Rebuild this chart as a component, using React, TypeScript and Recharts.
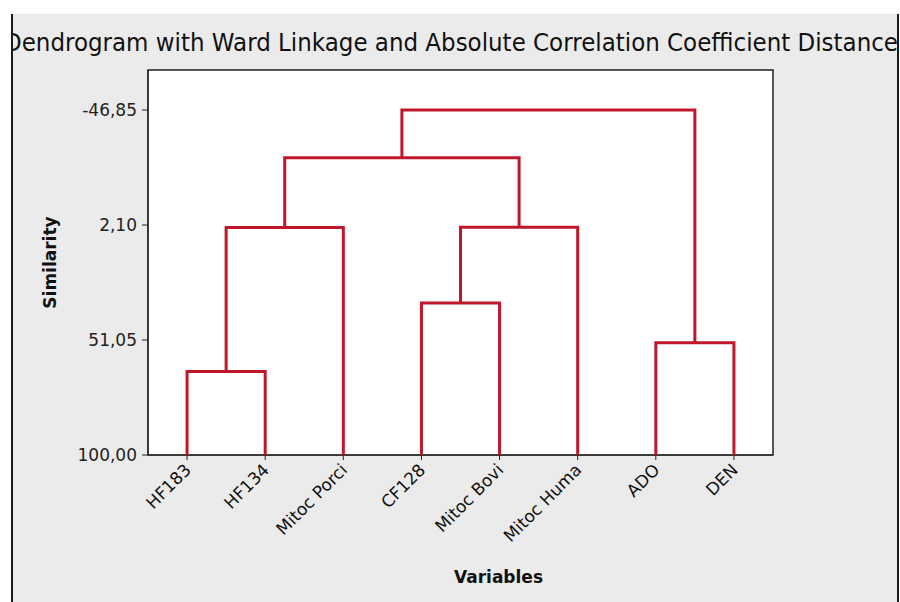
import { ComposedChart, Scatter, XAxis, YAxis, ReferenceArea } from 'recharts';

// leaf order along the x axis
const leaves = ['HF183', 'HF134', 'Mitoc Porci', 'CF128', 'Mitoc Bovi', 'Mitoc Huma', 'ADO', 'DEN'];

// merge steps: indices 0-7 are leaves, each step k creates node 8 + k
const mergeLeft = [0, 3, 6, 8, 9, 11, 13];
const mergeRight = [1, 4, 7, 2, 5, 12, 10];
const mergeSimilarity = [64.5, 35.3, 52.2, 3.2, 3.0, -26.5, -46.85];

const similarityTicks = [-46.85, 2.1, 51.05, 100];

const X_DOMAIN = [-0.5, 7.5];
const Y_DOMAIN = [-63.9, 100];

const RED = '#c0162a';
const FONT = '"DejaVu Sans", Tahoma, Verdana, sans-serif';

// leaves sit at similarity 100, each merge is drawn as a bracket
const nodeX: number[] = leaves.map((_, i) => i);
const nodeY: number[] = leaves.map(() => 100);
const links = mergeLeft.map((l, k) => {
  const r = mergeRight[k];
  const h = mergeSimilarity[k];
  nodeX.push((nodeX[l] + nodeX[r]) / 2);
  nodeY.push(h);
  return [
    { x: nodeX[l], y: nodeY[l] },
    { x: nodeX[l], y: h },
    { x: nodeX[r], y: h },
    { x: nodeX[r], y: nodeY[r] },
  ];
});

const fmt = (v: number) => v.toFixed(2).replace('.', ',');

const LeafTick = ({ x, y, payload }: any) => (
  <text
    x={x + 5}
    y={y + 9}
    transform={`rotate(-45 ${x + 5} ${y + 9})`}
    textAnchor="end"
    fontSize={17}
    fontFamily={FONT}
    fill="#111"
  >
    {leaves[payload.value]}
  </text>
);

const NoDot = () => <g />;

export default function App() {
  return (
    <div style={{ position: 'absolute', left: 0, top: 0, width: 900, height: 602, background: '#fff' }}>
      <div
        style={{
          position: 'absolute',
          left: 11,
          top: 14,
          width: 884,
          height: 588,
          background: '#ebebeb',
          borderLeft: '2px solid #1a1a1a',
          borderRight: '2px solid #1a1a1a',
          overflow: 'hidden',
        }}
      >
        <svg width={884} height={60} style={{ position: 'absolute', left: 0, top: 0 }}>
          <text x={-9} y={37} fontSize={24} fontFamily={FONT} fill="#111" textLength={894} lengthAdjust="spacingAndGlyphs">
            Dendrogram with Ward Linkage and Absolute Correlation Coefficient Distance
          </text>
        </svg>
      </div>
      <div style={{ position: 'absolute', left: 0, top: 0 }}>
        <ComposedChart width={900} height={602} margin={{ top: 70, right: 127, bottom: 0, left: 0 }}>
          <XAxis
            type="number"
            dataKey="x"
            domain={X_DOMAIN}
            ticks={[0, 1, 2, 3, 4, 5, 6, 7]}
            interval={0}
            height={147}
            tickSize={5}
            tickMargin={2}
            stroke="#222"
            tick={<LeafTick />}
            label={{ value: 'Variables', position: 'center', dx: 38, dy: 48, fontSize: 17, fontWeight: 600, fontFamily: FONT, fill: '#111' }}
          />
          <YAxis
            type="number"
            dataKey="y"
            domain={Y_DOMAIN}
            reversed
            ticks={similarityTicks}
            interval={0}
            width={148}
            tickSize={6}
            tickMargin={5}
            stroke="#222"
            tickFormatter={fmt}
            tick={{ fontSize: 17, fontFamily: FONT, fill: '#222' }}
            label={{ value: 'Similarity', angle: -90, position: 'center', dx: -24, fontSize: 17, fontWeight: 600, fontFamily: FONT, fill: '#111' }}
          />
          <ReferenceArea
            x1={X_DOMAIN[0]}
            x2={X_DOMAIN[1]}
            y1={Y_DOMAIN[0]}
            y2={Y_DOMAIN[1]}
            fill="#fff"
            fillOpacity={1}
            stroke="#222"
            strokeWidth={1.5}
          />
          {links.map((pts, i) => (
            <Scatter
              key={i}
              data={pts}
              line={{ stroke: RED, strokeWidth: 3 }}
              shape={NoDot}
              isAnimationActive={false}
            />
          ))}
        </ComposedChart>
      </div>
    </div>
  );
}
